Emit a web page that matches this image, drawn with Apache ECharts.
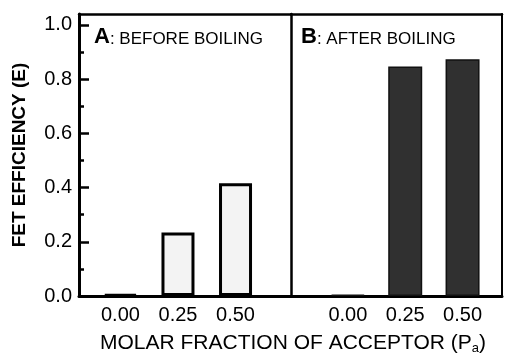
<!DOCTYPE html>
<html>
<head>
<meta charset="utf-8">
<script src="https://cdn.jsdelivr.net/npm/echarts@6/dist/echarts.min.js"></script>
<style>
  html, body { margin: 0; padding: 0; background: #fff; }
  #chart { width: 505px; height: 358px; }
</style>
</head>
<body>
<div id="chart"></div>
<script>
// molar fraction of acceptor (Pa) for each bar
const fractions = [0, 0.25, 0.5];
// FET efficiency (E)
const beforeBoiling = [0.006, 0.234, 0.416];
const afterBoiling = [0.005, 0.846, 0.873];
const yTicks = [0, 0.2, 0.4, 0.6, 0.8, 1.0];
const yMinorTicks = [0.1, 0.3, 0.5, 0.7, 0.9];

const FONT = 'Liberation Sans, Arial, sans-serif';
const Y_MAX = 1.04;

const chart = echarts.init(document.getElementById('chart'), null, { renderer: 'canvas' });

function xAxisFor(gridIndex, min, max) {
  return {
    type: 'value',
    gridIndex: gridIndex,
    position: 'bottom',
    min: min,
    max: max,
    axisLine: { show: true, onZero: false, lineStyle: { color: '#000', width: 3 } },
    axisTick: { show: false },
    splitLine: { show: false },
    axisLabel: {
      customValues: fractions,
      formatter: v => v.toFixed(2),
      color: '#000',
      fontFamily: FONT,
      fontSize: 20,
      margin: 9
    }
  };
}

// plain frame line (top / right edges of a panel)
function frameAxis(gridIndex, position, width) {
  return {
    type: 'value',
    gridIndex: gridIndex,
    position: position,
    min: 0,
    max: 1,
    axisLine: { show: true, onZero: false, lineStyle: { color: '#000', width: width } },
    axisTick: { show: false },
    axisLabel: { show: false },
    splitLine: { show: false }
  };
}

chart.setOption({
  animation: false,
  backgroundColor: '#fff',
  grid: [
    { left: 79, right: 214, top: 14, bottom: 62 },
    { left: 291, right: 3, top: 14, bottom: 62 }
  ],
  xAxis: [
    xAxisFor(0, -0.18, 0.741),
    xAxisFor(1, -0.248, 0.672),
    frameAxis(0, 'top', 2.5),
    frameAxis(1, 'top', 2.5)
  ],
  yAxis: [
    {
      // labels, name and major ticks
      type: 'value',
      gridIndex: 0,
      position: 'left',
      min: 0,
      max: Y_MAX,
      name: 'FET EFFICIENCY (E)',
      nameLocation: 'middle',
      nameGap: 50,
      nameTextStyle: { color: '#000', fontFamily: FONT, fontSize: 19, fontWeight: 'bold' },
      axisLine: { show: true, onZero: false, lineStyle: { color: '#000', width: 3 } },
      axisTick: { show: true, inside: true, length: 10, customValues: yTicks, lineStyle: { color: '#000', width: 2.5 } },
      splitLine: { show: false },
      axisLabel: {
        customValues: yTicks,
        formatter: v => v.toFixed(1),
        color: '#000',
        fontFamily: FONT,
        fontSize: 20,
        margin: 7
      }
    },
    {
      // minor ticks on the left edge
      type: 'value',
      gridIndex: 0,
      position: 'left',
      min: 0,
      max: Y_MAX,
      axisLine: { show: false, onZero: false },
      axisTick: { show: true, inside: true, length: 5, customValues: yMinorTicks, lineStyle: { color: '#000', width: 2.5 } },
      axisLabel: { show: false },
      splitLine: { show: false }
    },
    // divider between the panels
    frameAxis(0, 'right', 2.5),
    {
      type: 'value',
      gridIndex: 1,
      position: 'left',
      min: 0,
      max: Y_MAX,
      show: false
    },
    frameAxis(1, 'right', 2)
  ],
  series: [
    {
      name: 'A: BEFORE BOILING',
      type: 'bar',
      xAxisIndex: 0,
      yAxisIndex: 0,
      barWidth: 33,
      data: fractions.map((f, i) => [f, beforeBoiling[i]]),
      itemStyle: { color: '#f3f3f3', borderColor: '#000', borderWidth: 3 }
    },
    {
      name: 'B: AFTER BOILING',
      type: 'bar',
      xAxisIndex: 1,
      yAxisIndex: 3,
      barWidth: 34,
      data: fractions.map((f, i) => [f, afterBoiling[i]]),
      itemStyle: { color: '#303030', borderColor: '#111', borderWidth: 1.5 }
    }
  ],
  graphic: [
    {
      type: 'text',
      x: 94,
      y: 37,
      style: {
        text: '{a|A}{b|: BEFORE BOILING}',
        verticalAlign: 'middle',
        rich: {
          a: { fontFamily: FONT, fontSize: 22, fontWeight: 'bold', fill: '#000' },
          b: { fontFamily: FONT, fontSize: 17, fill: '#000', padding: [4, 0, 0, 0] }
        }
      }
    },
    {
      type: 'text',
      x: 301,
      y: 37,
      style: {
        text: '{a|B}{b|: AFTER BOILING}',
        verticalAlign: 'middle',
        rich: {
          a: { fontFamily: FONT, fontSize: 22, fontWeight: 'bold', fill: '#000' },
          b: { fontFamily: FONT, fontSize: 17, fill: '#000', padding: [4, 0, 0, 0] }
        }
      }
    },
    {
      type: 'text',
      x: 293,
      y: 343,
      style: {
        text: '{t|MOLAR FRACTION OF ACCEPTOR (P}{s|a}{t|)}',
        align: 'center',
        verticalAlign: 'middle',
        rich: {
          t: { fontFamily: FONT, fontSize: 21, fill: '#000' },
          s: { fontFamily: FONT, fontSize: 13, fill: '#000', padding: [10, 0, 0, 0] }
        }
      }
    }
  ]
});
</script>
</body>
</html>
